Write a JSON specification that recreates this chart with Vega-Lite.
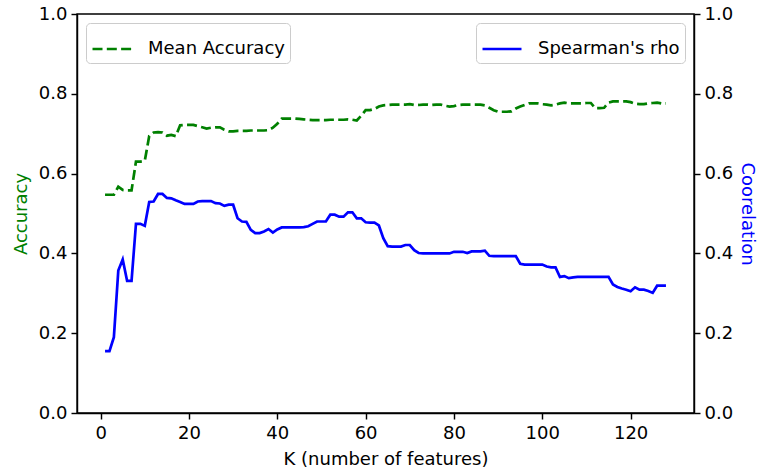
{
  "$schema": "https://vega.github.io/schema/vega-lite/v6.json",
  "autosize": "none",
  "width": 617,
  "height": 399,
  "padding": {"left": 77, "top": 14, "right": 65, "bottom": 57},
  "background": "white",
  "config": {
    "view": {"stroke": "black", "strokeWidth": 1.44},
    "font": "DejaVu Sans",
    "axis": {
      "grid": false,
      "domainColor": "black",
      "domainWidth": 1.44,
      "tickColor": "black",
      "tickWidth": 1.44,
      "tickSize": 6,
      "labelFont": "DejaVu Sans",
      "labelFontSize": 18,
      "labelColor": "black",
      "labelPadding": 4,
      "titleFont": "DejaVu Sans",
      "titleFontSize": 18,
      "titleFontWeight": "normal",
      "titleColor": "black"
    },
    "legend": {
      "labelFont": "DejaVu Sans",
      "labelFontSize": 18,
      "labelColor": "black",
      "padding": 5,
      "offset": 9,
      "strokeColor": "#cccccc",
      "fillColor": "rgba(255,255,255,0.8)",
      "cornerRadius": 4,
      "symbolType": "stroke",
      "symbolSize": 1520,
      "symbolStrokeWidth": 2.7,
      "labelOffset": 15,
      "title": null
    }
  },
  "data": {
    "values": [
      {"K": 1, "acc": 0.547, "rho": 0.155},
      {"K": 2, "acc": 0.547, "rho": 0.155},
      {"K": 3, "acc": 0.547, "rho": 0.19},
      {"K": 4, "acc": 0.567, "rho": 0.357},
      {"K": 5, "acc": 0.559, "rho": 0.385},
      {"K": 6, "acc": 0.558, "rho": 0.331},
      {"K": 7, "acc": 0.558, "rho": 0.331},
      {"K": 8, "acc": 0.630, "rho": 0.474},
      {"K": 9, "acc": 0.630, "rho": 0.474},
      {"K": 10, "acc": 0.632, "rho": 0.469},
      {"K": 11, "acc": 0.694, "rho": 0.529},
      {"K": 12, "acc": 0.703, "rho": 0.530},
      {"K": 13, "acc": 0.704, "rho": 0.549},
      {"K": 14, "acc": 0.703, "rho": 0.549},
      {"K": 15, "acc": 0.695, "rho": 0.539},
      {"K": 16, "acc": 0.697, "rho": 0.538},
      {"K": 17, "acc": 0.694, "rho": 0.533},
      {"K": 18, "acc": 0.721, "rho": 0.529},
      {"K": 19, "acc": 0.722, "rho": 0.524},
      {"K": 20, "acc": 0.722, "rho": 0.524},
      {"K": 21, "acc": 0.722, "rho": 0.524},
      {"K": 22, "acc": 0.719, "rho": 0.530},
      {"K": 23, "acc": 0.716, "rho": 0.531},
      {"K": 24, "acc": 0.713, "rho": 0.531},
      {"K": 25, "acc": 0.715, "rho": 0.531},
      {"K": 26, "acc": 0.716, "rho": 0.526},
      {"K": 27, "acc": 0.716, "rho": 0.525},
      {"K": 28, "acc": 0.710, "rho": 0.519},
      {"K": 29, "acc": 0.706, "rho": 0.522},
      {"K": 30, "acc": 0.706, "rho": 0.522},
      {"K": 31, "acc": 0.707, "rho": 0.488},
      {"K": 32, "acc": 0.707, "rho": 0.480},
      {"K": 33, "acc": 0.707, "rho": 0.479},
      {"K": 34, "acc": 0.708, "rho": 0.459},
      {"K": 35, "acc": 0.708, "rho": 0.451},
      {"K": 36, "acc": 0.708, "rho": 0.451},
      {"K": 37, "acc": 0.708, "rho": 0.455},
      {"K": 38, "acc": 0.709, "rho": 0.461},
      {"K": 39, "acc": 0.715, "rho": 0.452},
      {"K": 40, "acc": 0.725, "rho": 0.460},
      {"K": 41, "acc": 0.738, "rho": 0.465},
      {"K": 42, "acc": 0.738, "rho": 0.465},
      {"K": 43, "acc": 0.738, "rho": 0.465},
      {"K": 44, "acc": 0.738, "rho": 0.465},
      {"K": 45, "acc": 0.737, "rho": 0.465},
      {"K": 46, "acc": 0.736, "rho": 0.466},
      {"K": 47, "acc": 0.735, "rho": 0.468},
      {"K": 48, "acc": 0.734, "rho": 0.474},
      {"K": 49, "acc": 0.734, "rho": 0.480},
      {"K": 50, "acc": 0.734, "rho": 0.480},
      {"K": 51, "acc": 0.734, "rho": 0.480},
      {"K": 52, "acc": 0.735, "rho": 0.497},
      {"K": 53, "acc": 0.735, "rho": 0.497},
      {"K": 54, "acc": 0.735, "rho": 0.492},
      {"K": 55, "acc": 0.735, "rho": 0.492},
      {"K": 56, "acc": 0.736, "rho": 0.503},
      {"K": 57, "acc": 0.735, "rho": 0.503},
      {"K": 58, "acc": 0.733, "rho": 0.488},
      {"K": 59, "acc": 0.745, "rho": 0.488},
      {"K": 60, "acc": 0.759, "rho": 0.478},
      {"K": 61, "acc": 0.759, "rho": 0.477},
      {"K": 62, "acc": 0.762, "rho": 0.477},
      {"K": 63, "acc": 0.768, "rho": 0.470},
      {"K": 64, "acc": 0.771, "rho": 0.438},
      {"K": 65, "acc": 0.772, "rho": 0.418},
      {"K": 66, "acc": 0.773, "rho": 0.417},
      {"K": 67, "acc": 0.773, "rho": 0.417},
      {"K": 68, "acc": 0.773, "rho": 0.417},
      {"K": 69, "acc": 0.773, "rho": 0.421},
      {"K": 70, "acc": 0.774, "rho": 0.421},
      {"K": 71, "acc": 0.772, "rho": 0.408},
      {"K": 72, "acc": 0.772, "rho": 0.401},
      {"K": 73, "acc": 0.773, "rho": 0.400},
      {"K": 74, "acc": 0.773, "rho": 0.400},
      {"K": 75, "acc": 0.772, "rho": 0.400},
      {"K": 76, "acc": 0.773, "rho": 0.400},
      {"K": 77, "acc": 0.773, "rho": 0.400},
      {"K": 78, "acc": 0.770, "rho": 0.400},
      {"K": 79, "acc": 0.768, "rho": 0.400},
      {"K": 80, "acc": 0.769, "rho": 0.404},
      {"K": 81, "acc": 0.772, "rho": 0.404},
      {"K": 82, "acc": 0.773, "rho": 0.404},
      {"K": 83, "acc": 0.773, "rho": 0.401},
      {"K": 84, "acc": 0.773, "rho": 0.405},
      {"K": 85, "acc": 0.773, "rho": 0.405},
      {"K": 86, "acc": 0.773, "rho": 0.405},
      {"K": 87, "acc": 0.771, "rho": 0.407},
      {"K": 88, "acc": 0.765, "rho": 0.394},
      {"K": 89, "acc": 0.759, "rho": 0.393},
      {"K": 90, "acc": 0.755, "rho": 0.393},
      {"K": 91, "acc": 0.755, "rho": 0.393},
      {"K": 92, "acc": 0.755, "rho": 0.393},
      {"K": 93, "acc": 0.756, "rho": 0.393},
      {"K": 94, "acc": 0.763, "rho": 0.393},
      {"K": 95, "acc": 0.768, "rho": 0.374},
      {"K": 96, "acc": 0.772, "rho": 0.372},
      {"K": 97, "acc": 0.776, "rho": 0.372},
      {"K": 98, "acc": 0.776, "rho": 0.372},
      {"K": 99, "acc": 0.776, "rho": 0.372},
      {"K": 100, "acc": 0.774, "rho": 0.372},
      {"K": 101, "acc": 0.773, "rho": 0.367},
      {"K": 102, "acc": 0.771, "rho": 0.365},
      {"K": 103, "acc": 0.773, "rho": 0.365},
      {"K": 104, "acc": 0.776, "rho": 0.341},
      {"K": 105, "acc": 0.778, "rho": 0.343},
      {"K": 106, "acc": 0.776, "rho": 0.338},
      {"K": 107, "acc": 0.776, "rho": 0.340},
      {"K": 108, "acc": 0.776, "rho": 0.341},
      {"K": 109, "acc": 0.776, "rho": 0.341},
      {"K": 110, "acc": 0.777, "rho": 0.341},
      {"K": 111, "acc": 0.777, "rho": 0.341},
      {"K": 112, "acc": 0.764, "rho": 0.341},
      {"K": 113, "acc": 0.764, "rho": 0.341},
      {"K": 114, "acc": 0.765, "rho": 0.341},
      {"K": 115, "acc": 0.778, "rho": 0.341},
      {"K": 116, "acc": 0.781, "rho": 0.322},
      {"K": 117, "acc": 0.781, "rho": 0.316},
      {"K": 118, "acc": 0.781, "rho": 0.312},
      {"K": 119, "acc": 0.781, "rho": 0.309},
      {"K": 120, "acc": 0.779, "rho": 0.305},
      {"K": 121, "acc": 0.775, "rho": 0.315},
      {"K": 122, "acc": 0.774, "rho": 0.309},
      {"K": 123, "acc": 0.774, "rho": 0.309},
      {"K": 124, "acc": 0.776, "rho": 0.306},
      {"K": 125, "acc": 0.777, "rho": 0.301},
      {"K": 126, "acc": 0.778, "rho": 0.319},
      {"K": 127, "acc": 0.776, "rho": 0.319},
      {"K": 128, "acc": 0.776, "rho": 0.319}
    ]
  },
  "encoding": {
    "x": {
      "field": "K",
      "type": "quantitative",
      "scale": {"domain": [-5.35, 134.35], "nice": false, "zero": false},
      "axis": {"values": [0, 20, 40, 60, 80, 100, 120], "title": "K (number of features)", "titlePadding": 8, "labelPadding": 5}
    }
  },
  "layer": [
    {
      "mark": {"type": "line", "strokeDash": [10, 4.3], "strokeWidth": 2.7},
      "encoding": {
        "y": {
          "field": "acc",
          "type": "quantitative",
          "scale": {"domain": [0, 1], "nice": false},
          "axis": {"orient": "left", "title": "Accuracy", "titleColor": "#008000", "values": [0, 0.2, 0.4, 0.6, 0.8, 1.0], "format": ".1f", "titlePadding": 8}
        },
        "color": {
          "datum": "Mean Accuracy",
          "scale": {"domain": ["Mean Accuracy"], "range": ["#008000"]},
          "legend": {"orient": "top-left", "symbolDash": [10, 4.3]}
        }
      }
    },
    {
      "mark": {"type": "line", "strokeWidth": 2.7},
      "encoding": {
        "y": {
          "field": "rho",
          "type": "quantitative",
          "scale": {"domain": [0, 1], "nice": false},
          "axis": {"orient": "right", "title": "Coorelation", "titleColor": "#0000ff", "values": [0, 0.2, 0.4, 0.6, 0.8, 1.0], "format": ".1f", "titlePadding": 5}
        },
        "color": {
          "datum": "Spearman's rho",
          "scale": {"domain": ["Spearman's rho"], "range": ["#0000ff"]},
          "legend": {"orient": "top-right"}
        }
      }
    }
  ],
  "resolve": {"scale": {"y": "independent", "color": "independent"}, "legend": {"color": "independent"}}
}
